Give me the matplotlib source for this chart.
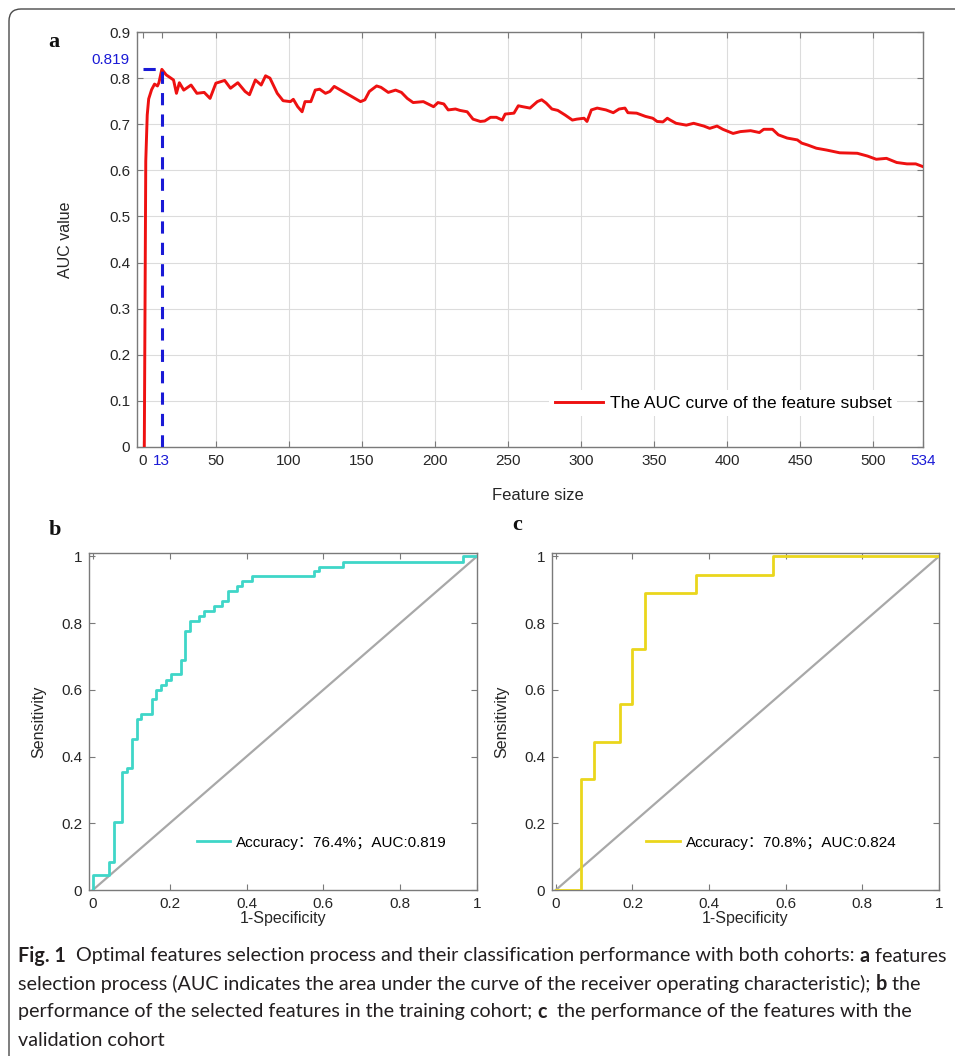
import numpy as np
import matplotlib
matplotlib.use("Agg")
import matplotlib.pyplot as plt
from matplotlib.patches import FancyBboxPatch
import matplotlib.transforms as mtransforms

# ---- panel a: AUC vs number of selected features
feature_size = [1, 2, 3, 4, 6, 8, 10, 11, 13, 16,
                21, 23, 25, 28, 33, 37, 42, 46, 50, 56,
                60, 65, 70, 73, 77, 81, 84, 87, 92, 96,
                101, 103, 106, 109, 111, 115, 118, 121, 125, 128,
                131, 137, 143, 149, 152, 155, 160, 163, 168, 173,
                177, 181, 185, 192, 199, 202, 206, 209, 214, 217,
                222, 226, 231, 234, 238, 242, 246, 248, 254, 257,
                260, 265, 270, 273, 276, 280, 284, 289, 294, 297,
                302, 304, 307, 311, 317, 322, 326, 330, 332, 338,
                344, 349, 352, 356, 359, 361, 365, 372, 377, 384,
                388, 393, 397, 404, 409, 416, 422, 425, 431, 435,
                441, 448, 451, 455, 461, 468, 477, 489, 496, 502,
                509, 516, 523, 529, 534]
auc_value = [0.0, 0.62, 0.72, 0.755, 0.775, 0.787, 0.783, 0.79, 0.819, 0.807,
             0.796, 0.767, 0.79, 0.774, 0.785, 0.767, 0.769, 0.756, 0.789, 0.795,
             0.778, 0.79, 0.771, 0.764, 0.796, 0.785, 0.805, 0.80, 0.767, 0.751,
             0.749, 0.754, 0.738, 0.727, 0.749, 0.749, 0.774, 0.776, 0.767, 0.771,
             0.782, 0.771, 0.76, 0.749, 0.753, 0.771, 0.783, 0.78, 0.769, 0.774,
             0.769, 0.756, 0.747, 0.749, 0.738, 0.747, 0.744, 0.731, 0.733, 0.73,
             0.727, 0.711, 0.706, 0.707, 0.715, 0.715, 0.709, 0.722, 0.724, 0.74,
             0.738, 0.735, 0.749, 0.753, 0.746, 0.733, 0.73, 0.72, 0.709, 0.711,
             0.713, 0.706, 0.731, 0.735, 0.731, 0.725, 0.733, 0.735, 0.725, 0.724,
             0.717, 0.713, 0.706, 0.705, 0.713, 0.709, 0.702, 0.698, 0.702, 0.696,
             0.691, 0.696, 0.689, 0.68, 0.684, 0.686, 0.682, 0.689, 0.689, 0.677,
             0.67, 0.666, 0.659, 0.655, 0.648, 0.644, 0.638, 0.637, 0.631, 0.624,
             0.626, 0.617, 0.614, 0.614, 0.608]
best_size = 13
best_auc = 0.819
n_features = 534
a_xticks = [0, 13, 50, 100, 150, 200, 250, 300, 350, 400, 450, 500, 534]
a_yticks = [0, 0.1, 0.2, 0.3, 0.4, 0.5, 0.6, 0.7, 0.8, 0.9]

# ---- panel b: training cohort ROC (corner points, horizontal then vertical)
fpr_train = [0, 0, 0.042, 0.054, 0.077, 0.090, 0.103, 0.116, 0.126, 0.155,
             0.164, 0.177, 0.190, 0.203, 0.229, 0.239, 0.253, 0.276, 0.289, 0.315,
             0.337, 0.351, 0.376, 0.389, 0.415, 0.575, 0.588, 0.651, 0.963, 1.0]
tpr_train = [0, 0.045, 0.085, 0.204, 0.353, 0.365, 0.453, 0.512, 0.527, 0.572,
             0.600, 0.615, 0.630, 0.647, 0.689, 0.776, 0.806, 0.821, 0.836, 0.851,
             0.866, 0.896, 0.910, 0.925, 0.940, 0.955, 0.968, 0.983, 1.0, 1.0]
label_train = "Accuracy：76.4%；AUC:0.819"

# ---- panel c: validation cohort ROC
fpr_valid = [0, 0.0667, 0.1, 0.1667, 0.2, 0.2333, 0.3667, 0.5667, 1.0]
tpr_valid = [0, 0.333, 0.444, 0.556, 0.722, 0.889, 0.944, 1.0, 1.0]
label_valid = "Accuracy：70.8%；AUC:0.824"

roc_ticks = [0, 0.2, 0.4, 0.6, 0.8, 1]
roc_ticklabels = ["0", "0.2", "0.4", "0.6", "0.8", "1"]

caption_lines = [
    [("Fig. 1", True), ("  Optimal features selection process and their classification performance with both cohorts: ", False),
     ("a", True), (" features", False)],
    [("selection process (AUC indicates the area under the curve of the receiver operating characteristic); ", False),
     ("b", True), (" the", False)],
    [("performance of the selected features in the training cohort; ", False), ("c", True),
     ("  the performance of the features with the", False)],
    [("validation cohort", False)],
]

W, H = 955, 1056
SANS = ["Liberation Sans", "Noto Sans CJK SC"]
CAP_FONT = ["Liberation Sans Narrow", "Lato", "DejaVu Sans"]
SPINE = "#7a7a7a"
TXT = "#262626"
BLUE = "#1a1ad6"

plt.rcParams["font.family"] = SANS
fig = plt.figure(figsize=(W / 100, H / 100), dpi=100)


def frac(x0, y0, x1, y1):
    return [x0 / W, 1 - y1 / H, (x1 - x0) / W, (y1 - y0) / H]


def style_axes(ax, size):
    for s in ax.spines.values():
        s.set_color(SPINE)
        s.set_linewidth(1.0)
    ax.tick_params(direction="in", length=4, width=0.8, color=SPINE,
                   labelcolor=TXT, labelsize=size, top=True, right=True, pad=5)


# ---------------- panel a
ax = fig.add_axes(frac(137, 32, 923, 447))
style_axes(ax, 11)
ax.plot(feature_size, auc_value, color="#ee1111", lw=2.1,
        label="The AUC curve of the feature subset", zorder=3)
ax.plot([best_size, best_size], [0, best_auc], color=BLUE, lw=2.2,
        ls=(0, (4, 3)), zorder=4)
ax.plot([0, best_size], [best_auc, best_auc], color=BLUE, lw=2.2,
        ls=(0, (4, 3)), zorder=4)
ax.set_xlim(-4, n_features)
ax.set_ylim(0, 0.9)
ax.set_xticks(a_xticks)
ax.set_xticklabels([str(v) for v in a_xticks])
ax.set_yticks(a_yticks)
ax.set_yticklabels(["0"] + [f"{v:.1f}" for v in a_yticks[1:]])
for lab, v in zip(ax.get_xticklabels(), a_xticks):
    if v in (best_size, n_features):
        lab.set_color(BLUE)
ax.grid(True, color="#dcdcdc", lw=0.8)
for tk, v in zip(ax.xaxis.get_major_ticks(), a_xticks):
    if v in (0, best_size, n_features):
        tk.gridline.set_visible(False)
ax.set_axisbelow(True)
trans = mtransforms.blended_transform_factory(ax.transAxes, ax.transData)
ax.text(-0.009, best_auc + 0.02, f"{best_auc:.3f}", transform=trans,
        ha="right", va="center", color=BLUE, fontsize=11)
ax.set_xlabel("Feature size", fontsize=12, color=TXT)
ax.set_ylabel("AUC value", fontsize=11.5, color=TXT)
ax.xaxis.set_label_coords(0.51, -0.099)
ax.yaxis.set_label_coords(-0.082, 0.5)
leg = ax.legend(loc="center", bbox_to_anchor=(0.746, 0.106), fontsize=12.5,
                handlelength=2.8, handletextpad=0.4, frameon=True,
                fancybox=False, borderpad=0.3)
leg.get_frame().set_edgecolor("none")
leg.get_frame().set_facecolor("white")
leg.get_frame().set_alpha(1)

# ---------------- panels b, c
roc_panels = [
    (frac(89, 553, 477, 890), fpr_train, tpr_train, label_train, "#3fd6c8", 0.60),
    (frac(552, 553, 939, 890), fpr_valid, tpr_valid, label_valid, "#ead61c", 0.567),
]
for pos, fx, ty, lab, col, lx in roc_panels:
    ax = fig.add_axes(pos)
    style_axes(ax, 11)
    ax.plot([0, 1], [0, 1], color="#a8a8a8", lw=1.6, zorder=2)
    ax.plot(fx, ty, color=col, lw=2.0, drawstyle="steps-post", label=lab, zorder=3)
    ax.set_xlim(-0.01, 1.0)
    ax.set_ylim(0, 1.01)
    ax.set_xticks(roc_ticks)
    ax.set_xticklabels(roc_ticklabels)
    ax.set_yticks(roc_ticks)
    ax.set_yticklabels(roc_ticklabels)
    ax.set_xlabel("1-Specificity", fontsize=11.5, color=TXT, labelpad=0)
    ax.set_ylabel("Sensitivity", fontsize=11.5, color=TXT)
    ax.yaxis.set_label_coords(-0.11, 0.5)
    ax.legend(loc="center", bbox_to_anchor=(lx, 0.14),
              handlelength=2.2, handletextpad=0.4, frameon=False,
              prop={"family": SANS, "size": 11})

# panel letters
for letter, px, py in [("a", 54, 42), ("b", 55, 530), ("c", 517, 525)]:
    fig.text(px / W, 1 - py / H, letter, fontsize=16, fontweight="bold",
             family="Liberation Serif", ha="center", va="center", color="#111111")

# outer rounded frame (runs off right and bottom edges)
frame = FancyBboxPatch((0.09, -0.5), 11.0, 10.47 + 0.5,
                       boxstyle="round,pad=0,rounding_size=0.12",
                       transform=fig.dpi_scale_trans, fill=False,
                       edgecolor="#4a4a4a", lw=1.0)
fig.patches.append(frame)

# ---------------- caption
renderer = fig.canvas.get_renderer()


def text_width(s, size, bold):
    t = fig.text(0, 0, s + "|", fontsize=size, family=CAP_FONT,
                 fontweight="bold" if bold else "normal")
    b = fig.text(0, 0, "|", fontsize=size, family=CAP_FONT,
                 fontweight="bold" if bold else "normal")
    w = t.get_window_extent(renderer).width - b.get_window_extent(renderer).width
    t.remove()
    b.remove()
    return w


w1 = sum(text_width(s, 10, bd) for s, bd in caption_lines[0])
cap_size = 10 * 928 / w1
for line, ypx in zip(caption_lines, [956, 984, 1012, 1040]):
    x = 18
    for s, bd in line:
        fig.text(x / W, 1 - ypx / H, s, fontsize=cap_size, family=CAP_FONT,
                 fontweight="bold" if bd else "normal", ha="left", va="center",
                 color="#231f20")
        x += text_width(s, cap_size, bd)

fig.savefig("out.png", dpi=100)
